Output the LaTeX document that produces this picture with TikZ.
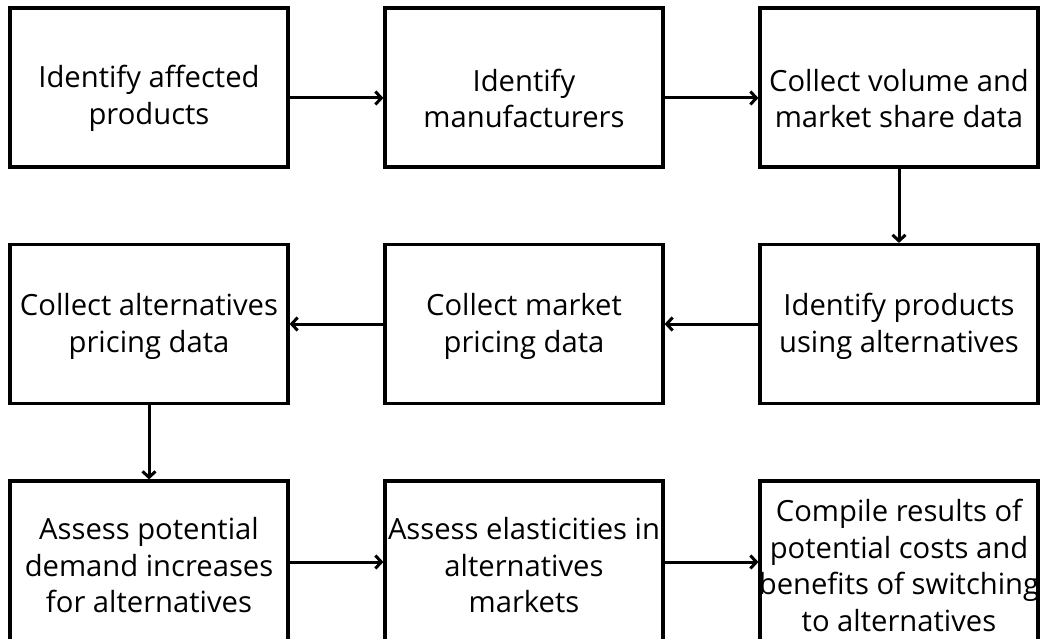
\documentclass[tikz,border=0pt]{standalone}
\usepackage{fontspec}
\setmainfont{Open Sans}
\usetikzlibrary{arrows.meta}
\begin{document}
\begin{tikzpicture}[x=1pt,y=-1pt,
  box/.style={draw=black,line width=3.2pt,minimum width=278pt,minimum height=159pt,inner sep=0pt},
  txt/.style={inner sep=0pt,font=\fontsize{29.2}{36.5}\selectfont,align=center},
  arr/.style={line width=3pt,-{Straight Barb[length=6pt,width=13pt,line width=3pt]}}]
\useasboundingbox (0,0) rectangle (1041,639);
\begin{scope}
\clip (0,0) rectangle (1041,639);
\node[box] (a) at (149,87.5) {};
\node[box] (b) at (524,87.5) {};
\node[box] (c) at (899,87.5) {};
\node[box] (f) at (149,324) {};
\node[box] (e) at (524,324) {};
\node[box] (d) at (899,324) {};
\node[box,minimum height=170pt] (g) at (149,566) {};
\node[box,minimum height=170pt] (h) at (524,566) {};
\node[box,minimum height=170pt] (i) at (899,566) {};
\end{scope}
\node[txt] (ta) at (149,98.5) {Identify affected\\products};
\node[txt] (tb) at (524,98.5) {Identify\\manufacturers};
\node[txt] (tc) at (899,98.5) {Collect volume and\\market share data};
\node[txt] (tf) at (149,326.5) {Collect alternatives\\pricing data};
\node[txt] (te) at (524,326.5) {Collect market\\pricing data};
\node[txt] (td) at (899,326.5) {Identify products\\using alternatives};
\node[txt] (tg) at (149,565.5) {Assess potential\\demand increases\\for alternatives};
\node[txt] (th) at (524,565.5) {Assess elasticities in\\alternatives\\markets};
\node[txt] (ti) at (899,565.5) {Compile results of\\potential costs and\\benefits of switching\\to alternatives};
\draw[arr] ([yshift=-10.5pt]a.east) -- ([yshift=-10.5pt]b.west);
\draw[arr] ([yshift=-10.5pt]b.east) -- ([yshift=-10.5pt]c.west);
\draw[arr] (c.south) -- (d.north);
\draw[arr] (d.west) -- (e.east);
\draw[arr] (e.west) -- (f.east);
\draw[arr] (f.south) -- (g.north);
\draw[arr] ([yshift=4pt]g.east) -- ([yshift=4pt]h.west);
\draw[arr] ([yshift=4pt]h.east) -- ([yshift=4pt]i.west);
\end{tikzpicture}
\end{document}
